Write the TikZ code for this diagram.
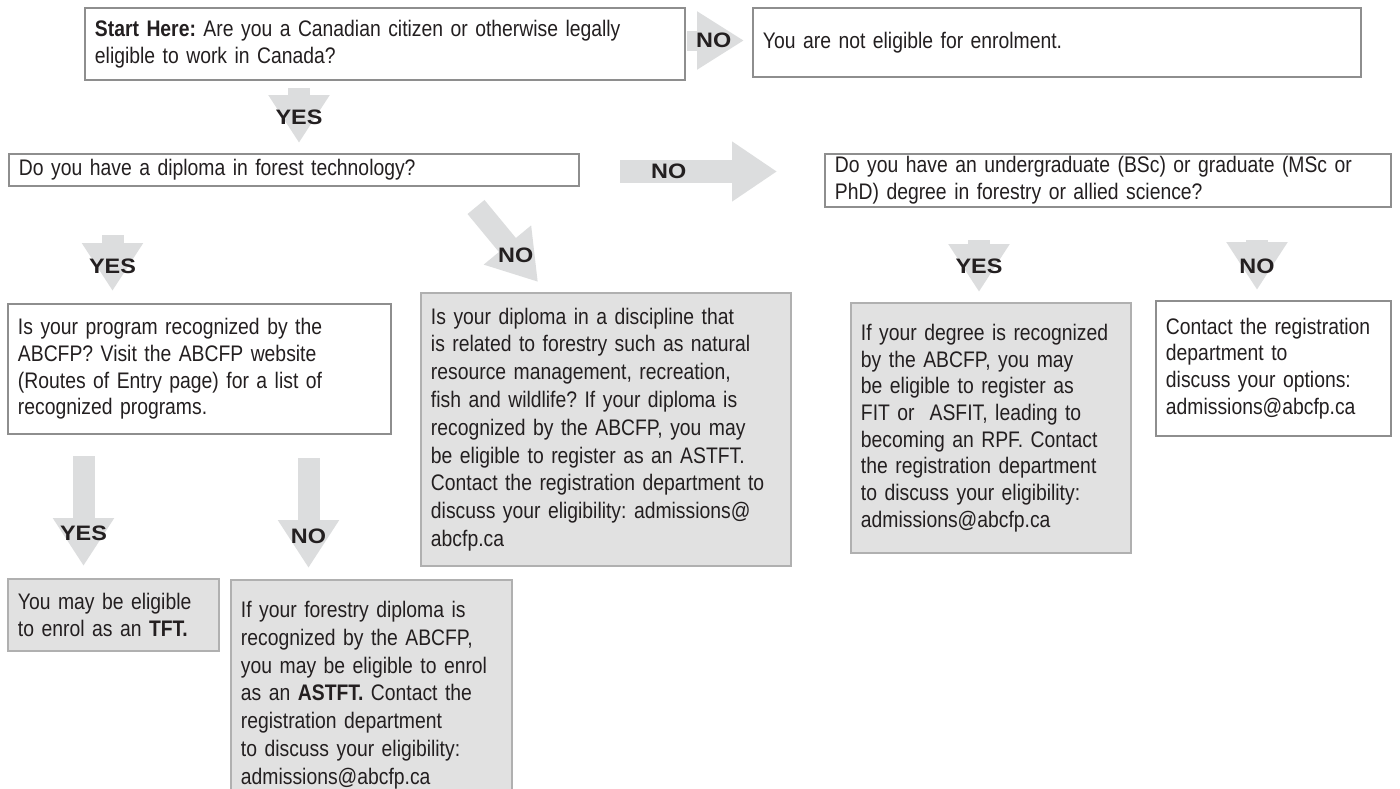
\documentclass[tikz,border=0pt]{standalone}
\usepackage{fontspec}
\setmainfont[FakeStretch=0.86]{Liberation Sans}
\newfontfamily\lblfont[FakeStretch=1.12]{Liberation Sans}
\usetikzlibrary{arrows.meta, positioning}
\definecolor{arrowgray}{HTML}{DCDDDE}
\definecolor{boxgray}{HTML}{E1E1E1}
\definecolor{edgegray}{HTML}{8E8E8E}
\definecolor{inkblack}{HTML}{231F20}
\tikzstyle{bigarrow} = [line width=0.44cm, arrowgray, -{Triangle[width=1.16cm, length=0.96cm]}]
\tikzset{every node/.style={align=left, text=inkblack}}

\begin{document}
\frenchspacing
\begin{tikzpicture}[
    box/.style={rectangle, draw=edgegray, line width=1.1pt, fill=white, anchor=north west,
                inner xsep=0.2cm, inner ysep=0.05cm, font=\fontsize{12.8}{15.2}\selectfont},
    graybox/.style={box, fill=boxgray, draw=edgegray!70},
    lbl/.style={font=\lblfont\bfseries\fontsize{11.9}{12}\selectfont}
]
  \useasboundingbox[fill=white] (0,0) rectangle (28,-15.76);

  % --- first question (row 1) ---
  \node[box, text width=11.60cm, minimum height=1.44cm] (start) at (1.68,-0.14)
    {\textbf{Start Here:} Are you a Canadian citizen or otherwise legally\\eligible to work in Canada?};
  \node[box, text width=11.76cm, minimum height=1.38cm] (noelig) at (15.04,-0.14)
    {You are not eligible for enrolment.};
  \coordinate (s1) at (13.74,-0.81);
  \coordinate (s2) at (14.88,-0.81);
  \draw[bigarrow, line width=0.4cm, -{Triangle[width=1.1cm, length=0.94cm]}] (s1) -- (s2)
    node[lbl, pos=0.47] (noA) {NO};
  \coordinate (s3) at (5.98,-1.76);
  \coordinate (s4) at (5.98,-2.86);
  \draw[bigarrow] (s3) -- (s4) node[lbl, pos=0.53] (yesA) {YES};

  % --- diploma / degree questions (row 2) ---
  \node[box, text width=11.00cm, minimum height=0.64cm] (diploma) at (0.16,-3.06)
    {Do you have a diploma in forest technology?};
  \node[box, text width=10.92cm, minimum height=1.04cm] (degree) at (16.48,-3.06)
    {Do you have an undergraduate (BSc) or graduate (MSc or\\PhD) degree in forestry or allied science?};
  \coordinate (d1) at (12.40,-3.43);
  \coordinate (d2) at (15.54,-3.43);
  \draw[bigarrow, line width=0.46cm, -{Triangle[width=1.14cm, length=0.9cm]}] (d1) -- (d2)
    node[lbl, pos=0.31] (noC) {NO};
  \coordinate (d3) at (9.52,-4.14);
  \coordinate (d4) at (10.76,-5.64);
  \draw[bigarrow] (d3) -- (d4) node[lbl, pos=0.64] (noDiag) {NO};
  \coordinate (d5) at (2.25,-4.70);
  \coordinate (d6) at (2.25,-5.82);
  \draw[bigarrow] (d5) -- (d6) node[lbl, pos=0.56] (yesC) {YES};
  \coordinate (d7) at (19.58,-4.80);
  \coordinate (d8) at (19.58,-5.84);
  \draw[bigarrow] (d7) -- (d8) node[lbl, pos=0.50] (yesD) {YES};
  \coordinate (d9) at (25.14,-4.80);
  \coordinate (d10) at (25.14,-5.80);
  \draw[bigarrow] (d9) -- (d10) node[lbl, pos=0.52] (noD) {NO};

  % --- row 3 ---
  \node[box, text width=7.26cm, minimum height=2.60cm] (program) at (0.14,-6.06)
    {Is your program recognized by the\\ABCFP? Visit the ABCFP website\\(Routes of Entry page) for a list of\\recognized programs.};
  \node[graybox, text width=7.00cm, minimum height=5.46cm,
        font=\fontsize{12.8}{15.8}\selectfont] (related) at (8.40,-5.84)
    {Is your diploma in a discipline that\\is related to forestry such as natural\\resource management, recreation,\\fish and wildlife? If your diploma is\\recognized by the ABCFP, you may\\be eligible to register as an ASTFT.\\Contact the registration department to\\discuss your eligibility: admissions@\\abcfp.ca};
  \node[graybox, text width=5.20cm, minimum height=5.00cm] (fit) at (17.00,-6.04)
    {If your degree is recognized\\by the ABCFP, you may\\be eligible to register as\\FIT or \ ASFIT, leading to\\becoming an RPF. Contact\\the registration department\\to discuss your eligibility:\\admissions@abcfp.ca};
  \node[box, text width=4.30cm, minimum height=2.70cm] (options) at (23.10,-6.00)
    {Contact the registration\\department to\\discuss your options:\\admissions@abcfp.ca};
  \coordinate (e1) at (1.67,-9.12);
  \coordinate (e2) at (1.67,-11.32);
  \draw[bigarrow] (e1) -- (e2) node[lbl, pos=0.70] (yesE) {YES};
  \coordinate (e3) at (6.17,-9.16);
  \coordinate (e4) at (6.17,-11.36);
  \draw[bigarrow] (e3) -- (e4) node[lbl, pos=0.71] (noE) {NO};

  % --- row 4 ---
  \node[graybox, text width=3.82cm, minimum height=1.44cm] (tft) at (0.14,-11.56)
    {You may be eligible\\to enrol as an \textbf{TFT.}};
  \node[graybox, text width=5.22cm, minimum height=4.60cm,
        font=\fontsize{12.8}{15.8}\selectfont] (astft) at (4.60,-11.58)
    {If your forestry diploma is\\recognized by the ABCFP,\\you may be eligible to enrol\\as an \textbf{ASTFT.} Contact the\\registration department\\to discuss your eligibility:\\admissions@abcfp.ca};
\end{tikzpicture}
\end{document}
